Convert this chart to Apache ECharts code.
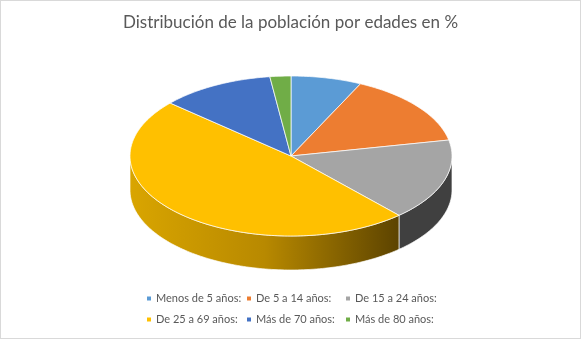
<!DOCTYPE html>
<html>
<head>
<meta charset="utf-8">
<script src="https://cdn.jsdelivr.net/npm/echarts@6/dist/echarts.min.js"></script>
<style>
html,body{margin:0;padding:0;background:#fff;}
#c{width:581px;height:339px;box-sizing:border-box;border:1px solid #d9d9d9;}
</style>
</head>
<body>
<div id="c"></div>
<script>
const categories = ['Menos de 5 años:', 'De 5 a 14 años:', 'De 15 a 24 años:', 'De 25 a 69 años:', 'Más de 70 años:', 'Más de 80 años:'];
const values = [7.1, 14.7, 16.5, 48.2, 11.4, 2.1];
const colors = ['#5B9BD5', '#ED7D31', '#A5A5A5', '#FFC000', '#4472C4', '#70AD47'];
const sideColors = [
  '#3a6fa0', '#a8561c', '#404040',
  {grad: [['#d9a500', 0], ['#b88900', 0.5], ['#5c4300', 1]]},
  '#2e4f8a', '#4d7a30'
];
const FONT = 'Lato, "Noto Sans", sans-serif';

const total = values.reduce((a, b) => a + b, 0);

function makeRender(idx) {
  return function (params, api) {
    let start = 0;
    for (let i = 0; i < idx; i++) start += values[i];
    const a0 = start / total * Math.PI * 2;
    const a1 = (start + api.value(0)) / total * Math.PI * 2;
    const W = api.getWidth();
    const cx = W / 2 + 0.5, cy = 155, rx = 161, ry = 80, depth = 34;
    const pt = (a, dy) => [cx + rx * Math.sin(a), cy - ry * Math.cos(a) + (dy || 0)];
    const children = [];
    const s0 = Math.max(a0, Math.PI / 2), s1 = Math.min(a1, Math.PI * 1.5);
    if (s1 > s0) {
      const n = Math.max(2, Math.ceil((s1 - s0) / 0.02));
      const up = [], down = [];
      for (let k = 0; k <= n; k++) {
        const a = s0 + (s1 - s0) * k / n;
        up.push(pt(a, 0));
        down.push(pt(a, depth));
      }
      const sc = sideColors[idx];
      let fill = sc;
      if (typeof sc === 'object') {
        fill = new echarts.graphic.LinearGradient(0, 0, 1, 0,
          sc.grad.map(g => ({offset: g[1], color: g[0]})));
      }
      children.push({
        type: 'polygon',
        shape: {points: up.concat(down.reverse())},
        style: {fill: fill, stroke: 'rgba(255,255,255,0.85)', lineWidth: 0.8}
      });
    }
    const n = Math.max(2, Math.ceil((a1 - a0) / 0.02));
    const top = [[cx, cy]];
    for (let k = 0; k <= n; k++) top.push(pt(a0 + (a1 - a0) * k / n, 0));
    children.push({
      type: 'polygon',
      shape: {points: top},
      style: {fill: api.visual('color'), stroke: 'rgba(255,255,255,0.9)', lineWidth: 0.8}
    });
    return {type: 'group', children: children};
  };
}

const legendCols = [146, 246, 345];
const chart = echarts.init(document.getElementById('c'), null, {renderer: 'canvas'});
chart.setOption({
  animation: false,
  color: colors,
  title: {
    text: 'Distribución de la población por edades en %',
    left: 'center',
    top: 8,
    textStyle: {color: '#595959', fontSize: 17, fontWeight: 'normal', fontFamily: FONT}
  },
  legend: legendCols.map((x, c) => ({
    orient: 'vertical',
    left: x,
    top: 292,
    padding: 0,
    itemGap: 10,
    icon: 'rect',
    itemWidth: 4,
    itemHeight: 4,
    selectedMode: false,
    data: [categories[c], categories[c + 3]],
    textStyle: {color: '#595959', fontSize: 11, fontFamily: FONT}
  })),
  series: categories.map((name, i) => ({
    type: 'custom',
    name: name,
    coordinateSystem: 'none',
    renderItem: makeRender(i),
    data: [[values[i]]]
  }))
});
</script>
</body>
</html>
